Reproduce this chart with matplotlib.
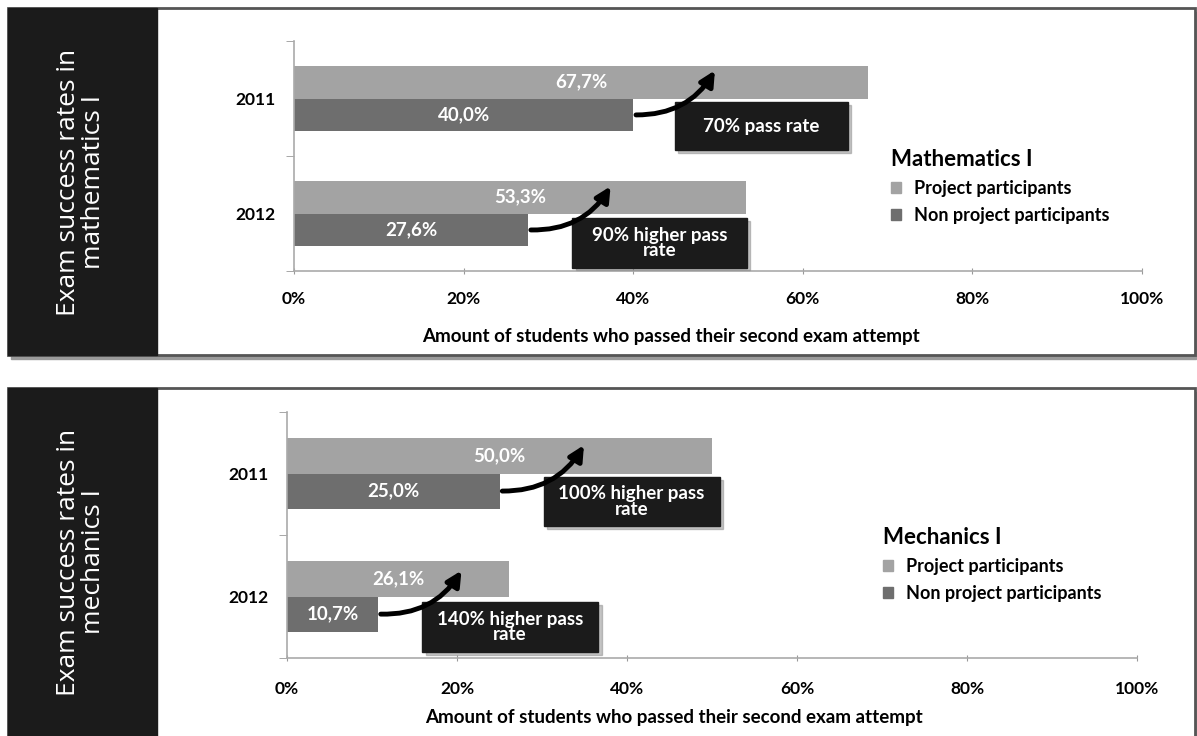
import matplotlib
matplotlib.use("Agg")
import matplotlib.pyplot as plt
from matplotlib.patches import Rectangle, FancyArrowPatch, Patch

plt.rcParams['font.family'] = ['Lato', 'DejaVu Sans']

# data
years = ['2011', '2012']
xticks = [0, 20, 40, 60, 80, 100]
math_proj = [67.7, 53.3]
math_non = [40.0, 27.6]
math_notes = ['70% pass rate', '90% higher pass\nrate']
mech_proj = [50.0, 26.1]
mech_non = [25.0, 10.7]
mech_notes = ['100% higher pass\nrate', '140% higher pass\nrate']
series_names = ['Project participants', 'Non project participants']
xlabel = 'Amount of students who passed their second exam attempt'

LIGHT = '#a3a3a3'
DARK = '#6e6e6e'
BLACK = '#1b1b1b'
W, H = 1197, 736


def fmt(v):
    return f"{v:.1f}".replace('.', ',') + '%'


fig = plt.figure(figsize=(W / 100, H / 100), dpi=100)
bg = fig.add_axes([0, 0, 1, 1])
bg.set_xlim(0, W)
bg.set_ylim(H, 0)
bg.axis('off')


def frame(top, bottom, text_y, side_text):
    bg.add_patch(Rectangle((11, top + 4), W - 12, bottom - top, color='#9a9a9a'))
    bg.add_patch(Rectangle((8, top), W - 10, bottom - top, facecolor='white',
                           edgecolor='#555555', lw=2))
    bg.add_patch(Rectangle((8, top), 149, bottom - top, color=BLACK))
    bg.text(81, text_y, side_text, rotation=90, color='white',
            ha='center', va='center', fontsize=19, family='Open Sans',
            linespacing=1.05)


frame(8, 355, 182, 'Exam success rates in\nmathematics I')
frame(388, 740, 562, 'Exam success rates in\nmechanics I')


def panel(rect, proj, non, notes, boxes, tips, title, leg_anchor, tpad, lpad, lx):
    ax = fig.add_axes(rect)
    ax.patch.set_alpha(0)
    y = list(range(len(years)))
    h = 0.285
    ax.barh([v - h / 2 for v in y], proj, height=h, color=LIGHT, label=series_names[0])
    ax.barh([v + h / 2 for v in y], non, height=h, color=DARK, label=series_names[1])
    for i in y:
        ax.text(proj[i] / 2, i - h / 2, fmt(proj[i]), ha='center', va='center',
                color='white', fontsize=13.5, fontweight='bold')
        ax.text(non[i] / 2, i + h / 2, fmt(non[i]), ha='center', va='center',
                color='white', fontsize=13.5, fontweight='bold')
        (x0, x1, y0, y1) = boxes[i]
        ax.add_patch(Rectangle((x0 + 0.4, i + y0 + 0.025), x1 - x0, y1 - y0,
                               color='#8a8a8a', alpha=0.5, clip_on=False, zorder=4))
        ax.add_patch(Rectangle((x0, i + y0), x1 - x0, y1 - y0, color=BLACK,
                               clip_on=False, zorder=5))
        ax.text((x0 + x1) / 2, i + (y0 + y1) / 2, notes[i], ha='center', va='center',
                color='white', fontsize=13.5, fontweight='bold', zorder=6,
                linespacing=0.9)
        arr = FancyArrowPatch((non[i], i + h / 2), (tips[i][0], i + tips[i][1]),
                              connectionstyle='arc3,rad=0.3', arrowstyle='-|>',
                              mutation_scale=22, lw=3.5, color='black', zorder=6,
                              clip_on=False)
        ax.add_patch(arr)
    ax.set_xlim(0, 100)
    ax.set_ylim(1.5, -0.5)
    ax.set_xticks(xticks)
    ax.set_xticklabels([f'{t}%' for t in xticks], fontsize=12.5, fontweight='bold')
    ax.set_yticks(y)
    ax.set_yticklabels(years, fontsize=12.5, fontweight='bold')
    ax.set_yticks([-0.5, 0.5, 1.5], minor=True)
    ax.tick_params(axis='y', which='major', length=0, pad=13)
    ax.tick_params(axis='y', which='minor', length=6, color='#999999', direction='out')
    ax.tick_params(axis='x', length=5, color='#999999', direction='inout', pad=tpad)
    for s in ['top', 'right']:
        ax.spines[s].set_visible(False)
    for s in ['left', 'bottom']:
        ax.spines[s].set_color('#aaaaaa')
        ax.spines[s].set_linewidth(1.2)
    ax.set_xlabel(xlabel, fontsize=13.5, fontweight='bold', labelpad=lpad)
    ax.xaxis.label.set_x(lx)
    handles = [Patch(color=LIGHT), Patch(color=DARK)]
    leg = ax.legend(handles, series_names, title=title, loc='upper left',
                    bbox_to_anchor=leg_anchor, bbox_transform=fig.transFigure,
                    frameon=False, alignment='left', fontsize=13,
                    title_fontproperties={'weight': 'bold', 'size': 16},
                    handlelength=0.55, handleheight=0.55, handletextpad=0.7,
                    labelspacing=0.55, borderpad=0)
    for t in leg.get_texts():
        t.set_fontweight('bold')
    return ax


panel([294 / W, 1 - 271 / H, 848 / W, 230 / H], math_proj, math_non, math_notes,
      [(44.9, 65.3, 0.03, 0.45), (32.8, 53.4, 0.04, 0.47)],
      [(49.8, -0.265), (37.5, -0.257)],
      'Mathematics I', (882 / W, 1 - 140 / H), 12, 15, 0.445)

panel([287 / W, 1 - 658 / H, 850 / W, 246 / H], mech_proj, mech_non, mech_notes,
      [(30.2, 50.9, 0.03, 0.43), (15.9, 36.6, 0.045, 0.45)],
      [(35.1, -0.25), (20.7, -0.23)],
      'Mechanics I', (874 / W, 1 - 518 / H), 14, 9, 0.455)

fig.savefig('out.png', dpi=100)
